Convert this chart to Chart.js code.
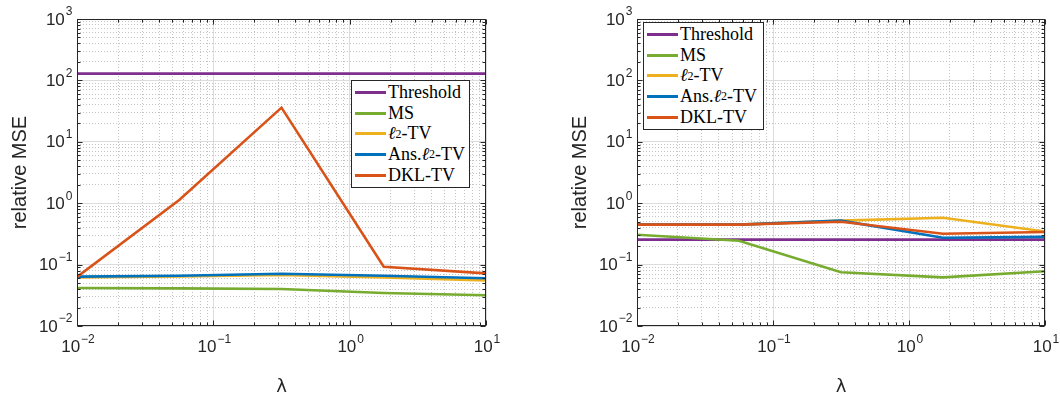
<!DOCTYPE html>
<html>
<head>
<meta charset="utf-8">
<script src="https://cdn.jsdelivr.net/npm/chart.js@4.4.1/dist/chart.umd.min.js"></script>
<style>
  html, body { margin: 0; padding: 0; background: #fff; }
  #page { position: relative; width: 1060px; height: 398px; overflow: hidden; }
  .panel { position: absolute; top: 0; width: 530px; height: 398px; }
  .legend {
    position: absolute; background: #fff; border: 1px solid #262626;
    font-family: "Liberation Serif", "DejaVu Serif", serif; font-size: 18px; color: #000;
    padding: 1px 4px 2px 3px; box-sizing: border-box;
  }
  .legend .row { display: flex; align-items: center; height: 20.7px; white-space: nowrap; }
  .legend .swatch { display: inline-block; width: 31px; height: 3px; margin-right: 2px; }
  .legend .ell { font-style: italic; }
  .legend sub { font-size: 12px; vertical-align: -3px; line-height: 0; }
</style>
</head>
<body>
<div id="page">
  <div class="panel" style="left:0"><canvas id="left" width="530" height="398"></canvas></div>
  <div class="panel" style="left:530px"><canvas id="right" width="530" height="398"></canvas></div>
  <div class="legend" id="legendLeft" style="left:351px; top:80px; width:119px;"></div>
  <div class="legend" id="legendRight" style="left:643px; top:22px; width:121px;"></div>
</div>
<script>
// lambda values (x axis, log scale)
const lambdaValues = [0.01, 0.0562, 0.3162, 1.778, 10]

const seriesNames = ["Threshold", "MS", "<span class=\"ell\">\u2113</span><sub>2</sub>-TV", "Ans.<span class=\"ell\">\u2113</span><sub>2</sub>-TV", "DKL-TV"]
const seriesColors = ["#7E2F8E", "#77AC30", "#EDB120", "#0072BD", "#D95319"]

// left panel
const leftThreshold = [129, 129, 129, 129, 129]
const leftMS = [0.0415, 0.041, 0.040, 0.0344, 0.0317]
const leftL2TV = [0.062, 0.064, 0.068, 0.062, 0.055]
const leftAnsL2TV = [0.0636, 0.066, 0.071, 0.066, 0.060]
const leftDklTV = [0.063, 1.13, 36, 0.092, 0.072]

// right panel
const rightThreshold = [0.255, 0.255, 0.255, 0.255, 0.255]
const rightMS = [0.307, 0.245, 0.075, 0.062, 0.078]
const rightL2TV = [0.447, 0.447, 0.52, 0.58, 0.345]
const rightAnsL2TV = [0.447, 0.447, 0.52, 0.274, 0.283]
const rightDklTV = [0.447, 0.447, 0.50, 0.318, 0.34]

// axis decades
const xTickExponents = [-2, -1, 0, 1]
const yTickExponents = [-2, -1, 0, 1, 2, 3]

const isMajor = v => Math.abs(Math.log10(v) - Math.round(Math.log10(v))) < 1e-6

// major + minor (2..9) ticks for a list of decades
function logTicks(exps) {
  const out = []
  for (let i = 0; i < exps.length; i++) {
    const base = Math.pow(10, exps[i])
    out.push({ value: base })
    if (i < exps.length - 1) {
      for (let m = 2; m <= 9; m++) out.push({ value: m * base })
    }
  }
  return out
}

const BASE_FONT = "17px 'Liberation Sans', Arial, sans-serif"
const EXP_FONT = "12px 'Liberation Sans', Arial, sans-serif"

// "10" with a raised exponent, anchored at (x, y); align = "center" or "right"
function drawPower(ctx, exp, x, y, align) {
  const e = String(exp).replace("-", "\u2212")
  ctx.font = BASE_FONT
  const wb = ctx.measureText("10").width
  ctx.font = EXP_FONT
  const we = ctx.measureText(e).width + 1
  const left = align === "center" ? x - (wb + we) / 2 : x - wb - we
  ctx.textBaseline = "middle"
  ctx.textAlign = "left"
  ctx.font = BASE_FONT
  ctx.fillText("10", left, y)
  ctx.font = EXP_FONT
  ctx.fillText(e, left + wb + 1, y - 8)
}

// MATLAB-like box with inward ticks on all four sides, plus tick labels
const boxPlugin = {
  id: "matlabBox",
  afterDraw(chart) {
    const { ctx, chartArea: a, scales } = chart
    ctx.save()
    ctx.strokeStyle = "#262626"
    ctx.lineWidth = 1
    const l = Math.round(a.left) + 0.5, r = Math.round(a.right) - 0.5
    const t = Math.round(a.top) + 0.5, b = Math.round(a.bottom) - 0.5
    ctx.strokeRect(l, t, r - l, b - t)
    ctx.beginPath()
    scales.x.ticks.forEach(tk => {
      const px = Math.round(scales.x.getPixelForValue(tk.value)) + 0.5
      const len = isMajor(tk.value) ? 5 : 3
      ctx.moveTo(px, b); ctx.lineTo(px, b - len)
      ctx.moveTo(px, t); ctx.lineTo(px, t + len)
    })
    scales.y.ticks.forEach(tk => {
      const py = Math.round(scales.y.getPixelForValue(tk.value)) + 0.5
      const len = isMajor(tk.value) ? 5 : 3
      ctx.moveTo(l, py); ctx.lineTo(l + len, py)
      ctx.moveTo(r, py); ctx.lineTo(r - len, py)
    })
    ctx.stroke()

    ctx.fillStyle = "#262626"
    xTickExponents.forEach(e => {
      drawPower(ctx, e, scales.x.getPixelForValue(Math.pow(10, e)) + 1, b + 22, "center")
    })
    yTickExponents.forEach(e => {
      drawPower(ctx, e, l - 5, scales.y.getPixelForValue(Math.pow(10, e)) + 1, "right")
    })
    ctx.restore()
  }
}

function gridOpts() {
  return {
    drawTicks: false,
    lineWidth: 1,
    color: ctx => isMajor(ctx.tick.value) ? "#dcdcdc" : "#c4c4c4"
  }
}

function makeChart(id, series, padLeft, padRight) {
  const datasets = series.map((data, i) => ({
    label: seriesNames[i],
    data: data.map((y, k) => ({ x: lambdaValues[k], y })),
    borderColor: seriesColors[i],
    backgroundColor: seriesColors[i],
    borderWidth: 2.6,
    pointRadius: 0,
    fill: false,
    tension: 0,
    order: series.length - i
  }))

  return new Chart(document.getElementById(id), {
    type: "line",
    data: { datasets },
    options: {
      responsive: false,
      animation: false,
      events: [],
      layout: { padding: { left: padLeft, right: padRight, top: 19, bottom: 0 } },
      plugins: { legend: { display: false }, tooltip: { enabled: false } },
      scales: {
        x: {
          type: "logarithmic",
          min: 0.01,
          max: 10,
          afterBuildTicks: s => { s.ticks = logTicks(xTickExponents) },
          afterFit: s => { s.height = 72 },
          grid: gridOpts(),
          border: { display: false, dash: ctx => isMajor(ctx.tick.value) ? [] : [1, 2] },
          ticks: { display: false, autoSkip: false },
          title: {
            display: true,
            text: "\u03BB",
            color: "#262626",
            padding: { top: 0, bottom: 0 },
            font: { family: "DejaVu Sans, sans-serif", size: 18 }
          }
        },
        y: {
          type: "logarithmic",
          min: 0.01,
          max: 1000,
          afterBuildTicks: s => { s.ticks = logTicks(yTickExponents) },
          afterFit: s => { s.width = 77 },
          grid: gridOpts(),
          border: { display: false, dash: ctx => isMajor(ctx.tick.value) ? [] : [1, 2] },
          ticks: { display: false, autoSkip: false },
          title: {
            display: true,
            text: "relative MSE",
            color: "#262626",
            padding: { top: 8, bottom: 0 },
            font: { family: "Liberation Sans, Arial, sans-serif", size: 20 }
          }
        }
      }
    },
    plugins: [boxPlugin]
  })
}

makeChart("left", [leftThreshold, leftMS, leftL2TV, leftAnsL2TV, leftDklTV], 0, 44)
makeChart("right", [rightThreshold, rightMS, rightL2TV, rightAnsL2TV, rightDklTV], 30, 15)

function buildLegend(el) {
  el.innerHTML = seriesNames.map((name, i) =>
    `<div class="row"><span class="swatch" style="background:${seriesColors[i]}"></span>${name}</div>`
  ).join("")
}
buildLegend(document.getElementById("legendLeft"))
buildLegend(document.getElementById("legendRight"))
</script>
</body>
</html>
